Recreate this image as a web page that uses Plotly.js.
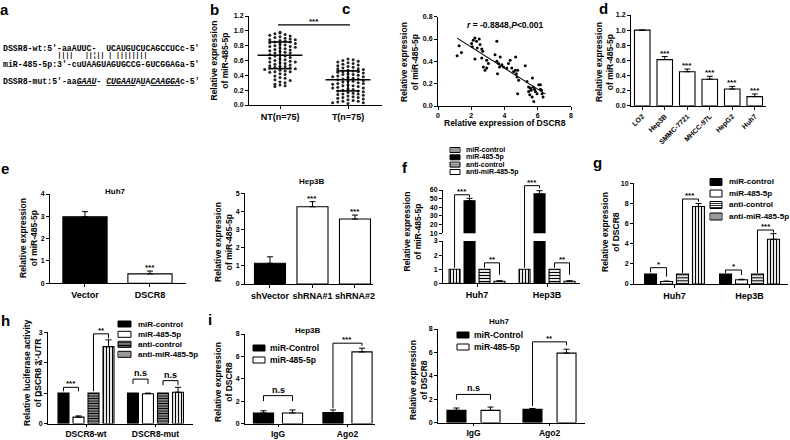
<!DOCTYPE html>
<html><head><meta charset="utf-8">
<script src="https://cdn.plot.ly/plotly-3.0.1.min.js"></script>
<style>html,body{margin:0;padding:0;background:#fff;}#chart{width:790px;height:440px;}</style>
</head><body><div id="chart"></div>
<script>
// ---------------- DATA ----------------
// a: sequences
const seqWt  = "DSSR8-wt:5'-aaAUUC-\u00a0\u00a0UCAUGUCUCAGCCUCc-5'";
const seqMiR = "miR-485-5p:3'-cuUAAGUAGUGCCG-GUCGGAGa-5'";
const seqMut = "DSSR8-mut:5'-aa<i><u>GAAU</u></i>-\u00a0<i><u>CUGAAU</u></i>A<u>U</u>A<i><u>CAAGGA</u></i>c-5'";
const seqPairs = "\u00a0\u00a0\u00a0\u00a0\u00a0\u00a0\u00a0\u00a0\u00a0\u00a0\u00a0\u00a0\u00a0\u00a0||||\u00a0\u00a0\u00a0||\u00a6||\u00a0|\u00a0||||||||";

// b: scatter dot plot
const bGroups = ['NT(n=75)', 'T(n=75)'];
const bNT = [0.98,0.97,0.95,0.96,0.93,0.94,0.92,0.90,0.91,0.89,
             0.88,0.88,0.87,0.86,0.85,0.85,0.84,0.83,0.82,0.81,
             0.80,0.79,0.79,0.78,0.77,0.76,0.75,0.74,0.73,0.72,
             0.71,0.70,0.70,0.68,0.67,0.66,0.66,0.64,0.63,0.62,
             0.61,0.60,0.59,0.58,0.58,0.57,0.56,0.55,0.54,0.53,
             0.52,0.52,0.51,0.50,0.50,0.49,0.48,0.47,0.46,0.45,
             0.45,0.44,0.42,0.41,0.39,0.37,0.36,0.34,0.33,0.31,
             0.30,0.28,0.27,0.26,0.25];
const bT  = [0.62,0.61,0.60,0.59,0.58,0.57,0.56,0.55,0.54,0.53,
             0.52,0.51,0.50,0.49,0.49,0.48,0.47,0.46,0.45,0.45,
             0.44,0.43,0.42,0.41,0.41,0.40,0.39,0.38,0.38,0.37,
             0.36,0.35,0.35,0.34,0.33,0.32,0.32,0.31,0.30,0.29,
             0.29,0.28,0.27,0.26,0.26,0.25,0.24,0.23,0.23,0.22,
             0.21,0.20,0.19,0.19,0.18,0.17,0.16,0.15,0.15,0.14,
             0.13,0.12,0.11,0.10,0.10,0.09,0.08,0.07,0.06,0.05,
             0.05,0.04,0.03,0.03,0.02];
const bMean = [0.67, 0.34];
const bSdLow = [0.49, 0.19];
const bSdHigh = [0.85, 0.46];

// c: correlation
const cDSCR8 = [1.15,1.27,1.41,2.02,2.12,2.22,2.32,2.06,2.22,2.36,2.48,2.53,2.63,2.69,2.63,2.73,2.83,2.93,2.93,3.03,
                3.54,3.43,3.54,3.64,3.70,3.74,3.58,3.84,3.94,4.14,4.24,4.34,4.44,4.55,4.65,4.71,4.75,4.79,4.67,4.85,
                4.79,5.25,5.35,5.45,5.56,5.60,5.68,5.72,5.80,5.86,5.76,5.66,6.06,6.16,6.22,6.26,6.32,6.16,5.96,5.52,5.45];
const cMiR485 = [0.45,0.54,0.48,0.56,0.59,0.61,0.58,0.53,0.42,0.52,0.60,0.55,0.51,0.49,0.43,0.35,0.32,0.34,0.41,0.38,
                 0.58,0.46,0.40,0.38,0.35,0.44,0.29,0.37,0.35,0.34,0.38,0.41,0.34,0.31,0.32,0.29,0.26,0.32,0.44,0.23,
                 0.11,0.36,0.22,0.17,0.16,0.14,0.25,0.17,0.15,0.13,0.04,0.08,0.19,0.15,0.14,0.11,0.08,0.19,0.11,0.10,0.13];

// d: cell lines
const dCells = ['LO2','Hep3B','SMMC-7721','MHCC-97L','HepG2','Huh7'];
const dExpr  = [1.0, 0.61, 0.45, 0.35, 0.22, 0.12];
const dErr   = [0, 0.04, 0.035, 0.04, 0.035, 0.035];
const dSig   = ['', '***', '***', '***', '***', '***'];

// e
const eHuh7Groups = ['Vector','DSCR8'];
const eHuh7Expr = [2.98, 0.42];
const eHuh7Err  = [0.23, 0.13];
const eHuh7Sig  = ['', '***'];
const eHep3BGroups = ['shVector','shRNA#1','shRNA#2'];
const eHep3BExpr = [1.14, 4.26, 3.58];
const eHep3BErr  = [0.36, 0.28, 0.22];
const eHep3BSig  = ['', '***', '***'];

// f
const fCells = ['Huh7','Hep3B'];
const fMiRControl = [1, 1];
const fMiR485 = [47.6, 55.5];
const fMiR485Err = [2.8, 3.7];
const fAntiControl = [1, 1];
const fAntiMiR485 = [0.15, 0.15];
const fAntiMiR485Err = [0.03, 0.03];

// g
const gCells = ['Huh7','Hep3B'];
const gMiRControl = [1, 1];
const gMiR485 = [0.25, 0.42];
const gMiR485Err = [0.04, 0.05];
const gAntiControl = [1, 1];
const gAntiMiR485 = [7.7, 4.45];
const gAntiMiR485Err = [0.3, 0.55];

// h
const hGroups = ['DSCR8-wt','DSCR8-mut'];
const hMiRControl = [1, 1];
const hMiR485 = [0.21, 0.98];
const hMiR485Err = [0.04, 0.02];
const hAntiControl = [1, 1];
const hAntiMiR485 = [2.53, 1.03];
const hAntiMiR485Err = [0.22, 0.16];

// i
const iGroups = ['IgG','Ago2'];
const iHep3BControl = [0.94, 0.97];
const iHep3BControlErr = [0.2, 0.24];
const iHep3BMiR485 = [0.94, 6.4];
const iHep3BMiR485Err = [0.27, 0.33];
const iHuh7Control = [1.04, 1.12];
const iHuh7ControlErr = [0.2, 0.08];
const iHuh7MiR485 = [1.04, 5.94];
const iHuh7MiR485Err = [0.28, 0.33];

// ---------------- HELPERS ----------------
const W = 790, H = 440;
const FONT = 'Liberation Sans, Arial, sans-serif';
const X = p => p / W, Y = p => 1 - p / H;
const idx = a => a.map((_, i) => i);
const ak = id => (id[0] === 'x' ? 'xaxis' : 'yaxis') + (id.length > 1 ? id.slice(1) : '');
const F = (size, extra) => Object.assign({family: FONT, size: size, color: 'black', weight: 'bold'}, extra || {});

const traces = [], shapes = [], annotations = [];
const layout = {
  width: W, height: H, margin: {l: 0, r: 0, t: 0, b: 0},
  paper_bgcolor: 'white', plot_bgcolor: 'white', showlegend: false, barmode: 'overlay',
  font: {family: FONT, color: 'black'}
};

const base = {showline: true, linecolor: 'black', linewidth: 1, ticks: 'outside', ticklen: 3, tickwidth: 1,
  tickcolor: 'black', showgrid: false, zeroline: false, fixedrange: true, tickfont: F(7)};

const P = {
  b:  {x: 'x',   y: 'y',   px: [249, 382], py: [16, 105],    xr: [-0.456, 1.5],  yr: [0, 1.2]},
  c:  {x: 'x2',  y: 'y2',  px: [438, 571], py: [16.7, 106],  xr: [0, 8],         yr: [0, 0.8]},
  d:  {x: 'x3',  y: 'y3',  px: [631, 766], py: [15, 105.7],  xr: [-0.5, 5.5],    yr: [0, 1.2]},
  eL: {x: 'x4',  y: 'y4',  px: [50, 186],  py: [194, 283.3], xr: [-0.538, 1.554], yr: [0, 4]},
  eR: {x: 'x5',  y: 'y5',  px: [245, 373], py: [193.3, 284], xr: [-0.588, 2.424], yr: [0, 5]},
  fL: {x: 'x6',  y: 'y6',  px: [443, 580], py: [241, 283.3], xr: [-0.486, 1.471], yr: [0, 3]},
  fU: {x: 'x6',  y: 'y7',  px: [443, 580], py: [190, 233.3], xr: [-0.486, 1.471], yr: [10, 60]},
  g:  {x: 'x7',  y: 'y8',  px: [634, 788], py: [183.3, 284], xr: [-0.54, 1.513],  yr: [0, 10]},
  h:  {x: 'x8',  y: 'y9',  px: [48, 193],  py: [332.3, 423.5], xr: [-0.547, 1.54],  yr: [0, 3]},
  iL: {x: 'x9',  y: 'y10', px: [245, 375], py: [334, 423.5],   xr: [-0.475, 1.396], yr: [0, 8]},
  iR: {x: 'x10', y: 'y11', px: [438, 585], py: [329, 422.5], xr: [-0.467, 1.467], yr: [0, 8]}
};

function axes(p, xo, yo) {
  if (xo) layout[ak(p.x)] = Object.assign({}, base, {domain: [X(p.px[0]), X(p.px[1])], range: p.xr, anchor: p.y}, xo);
  layout[ak(p.y)] = Object.assign({}, base, {domain: [Y(p.py[1]), Y(p.py[0])], range: p.yr, anchor: p.x, tickmode: 'linear'}, yo);
}
const catX = (cats, size) => ({tickmode: 'array', tickvals: idx(cats), ticktext: cats, tickfont: F(size || 9)});
function yp(p, v) { return Y(p.py[1] - (v - p.yr[0]) / (p.yr[1] - p.yr[0]) * (p.py[1] - p.py[0])); }

const STY = {
  black:   {color: 'black'},
  white:   {color: 'white'},
  vstripe: {color: 'white', pattern: {shape: '|', fgcolor: 'black', size: 3, solidity: 0.4}},
  hstripe: {color: 'white', pattern: {shape: '-', fgcolor: 'black', size: 3, solidity: 0.4}},
  hdark:   {color: 'white', pattern: {shape: '-', fgcolor: 'black', size: 2.5, solidity: 0.65}}
};

function barTrace(p, xs, ys, err, style, off, wid, yaxis) {
  return {type: 'bar', x: xs, y: ys, xaxis: p.x, yaxis: yaxis || p.y, offset: off - wid / 2, width: wid,
    marker: Object.assign({line: {color: 'black', width: 1.1}}, style),
    error_y: err ? {type: 'data', symmetric: false, array: err, arrayminus: err.map(() => 0),
      color: 'black', thickness: 1, width: 3, visible: true} : {visible: false},
    showlegend: false, hoverinfo: 'skip'};
}

function seg(xref, yref, x0, y0, x1, y1, w) {
  shapes.push({type: 'line', xref: xref, yref: yref, x0: x0, y0: y0, x1: x1, y1: y1,
    line: {color: 'black', width: w || 1}});
}
function txt(x, y, text, font, o) {
  annotations.push(Object.assign({xref: 'paper', yref: 'paper', x: x, y: y, text: text, showarrow: false,
    font: font, xanchor: 'center', yanchor: 'middle'}, o || {}));
}
function bracket(xref, xL, xR, yBL, yT, yBR, label, size) {
  seg(xref, 'paper', xL, yBL, xL, yT);
  seg(xref, 'paper', xL, yT, xR, yT);
  seg(xref, 'paper', xR, yT, xR, yBR);
  annotations.push({xref: xref, yref: 'paper', x: (xL + xR) / 2, y: yT, yanchor: 'bottom', text: label,
    showarrow: false, font: F(size || 8), yshift: label === 'n.s' ? -1 : -3});
}
function sigAbove(p, vals, errs, sig) {
  vals.forEach((v, i) => {
    if (!sig[i]) return;
    annotations.push({xref: p.x, yref: 'paper', x: i, y: yp(p, v + (errs[i] || 0)), yanchor: 'bottom',
      text: sig[i], showarrow: false, font: F(8), yshift: -3});
  });
}
function legendItem(x, y, w, h, style, label, size, gap) {
  shapes.push({type: 'rect', xref: 'paper', yref: 'paper', x0: X(x), x1: X(x + w), y0: Y(y + h / 2), y1: Y(y - h / 2),
    line: {color: 'black', width: 1}, fillcolor: style === 'black' ? 'black' : 'white'});
  if (style === 'vstripe') for (let sx = x + 2; sx < x + w - 0.5; sx += 2) seg('paper', 'paper', X(sx), Y(y - h / 2), X(sx), Y(y + h / 2), 0.8);
  if (style === 'hstripe' || style === 'hdark') {
    const st = style === 'hdark' ? 1.4 : 2;
    for (let sy = y - h / 2 + st; sy < y + h / 2 - 0.3; sy += st) seg('paper', 'paper', X(x), Y(sy), X(x + w), Y(sy), style === 'hdark' ? 1 : 0.8);
  }
  txt(X(x + w + gap), Y(y), label, F(size), {xanchor: 'left'});
}
function yTitle(cx, cy, text) { txt(X(cx), Y(cy), text, F(8.5), {textangle: -90}); }
function letter(cx, cy, t) { txt(X(cx), Y(cy), t, F(15)); }

// ---------------- PANEL a ----------------
letter(4, 9, 'a');
const monoF = {family: 'Liberation Mono, DejaVu Sans Mono, monospace', size: 8.2, color: 'black', weight: 'bold'};
txt(X(1), Y(48), seqWt, monoF, {xanchor: 'left'});
txt(X(1), Y(56), seqPairs, Object.assign({}, monoF, {size: 6.5}), {xanchor: 'left'});
txt(X(1), Y(64), seqMiR, monoF, {xanchor: 'left'});
txt(X(1), Y(81), seqMut, monoF, {xanchor: 'left'});

// ---------------- PANEL b ----------------
letter(214, 9, 'b');
axes(P.b, Object.assign(catX(bGroups), {tickmode: 'array'}), {dtick: 0.2, tick0: 0, tickformat: '.1f'});
function swarmX(vals, g) {
  const counts = {}, binW = 0.05, step = 0.075;
  return vals.map(v => {
    const b = Math.round(v / binW); const k = counts[b] || 0; counts[b] = k + 1;
    const m = k === 0 ? 0 : (k % 2 === 1 ? Math.ceil(k / 2) : -Math.ceil(k / 2));
    return g + m * step;
  });
}
[bNT, bT].forEach((vals, g) => {
  traces.push({type: 'scatter', mode: 'markers', x: swarmX(vals, g), y: vals, xaxis: 'x', yaxis: 'y',
    marker: {size: 3, color: '#222'}, showlegend: false, hoverinfo: 'skip'});
  const m = bMean[g], lo = bSdLow[g], hi = bSdHigh[g];
  traces.push({type: 'scatter', mode: 'lines', xaxis: 'x', yaxis: 'y', showlegend: false, hoverinfo: 'skip',
    x: [g - 0.33, g + 0.33, null, g, g, null, g - 0.17, g + 0.17, null, g - 0.17, g + 0.17],
    y: [m, m, null, lo, hi, null, lo, lo, null, hi, hi], line: {color: 'black', width: 1.6}});
});
seg('x', 'paper', -0.03, yp(P.b, 1.08), 1.03, yp(P.b, 1.08), 1.2);
annotations.push({xref: 'x', yref: 'paper', x: 0.5, y: yp(P.b, 1.08), yanchor: 'bottom', text: '***', showarrow: false, font: F(8), yshift: -3});
yTitle(219.5, 60, 'Relative expression<br>of miR-485-5p');

// ---------------- PANEL c ----------------
letter(346, 8, 'c');
axes(P.c, {tickmode: 'linear', dtick: 2, tick0: 0}, {dtick: 0.2, tick0: 0, tickformat: '.1f'});
traces.push({type: 'scatter', mode: 'markers', x: cDSCR8, y: cMiR485, xaxis: 'x2', yaxis: 'y2',
  marker: {size: 3, color: 'black'}, showlegend: false, hoverinfo: 'skip'});
(function () {
  const n = cDSCR8.length;
  const mx = cDSCR8.reduce((a, b) => a + b, 0) / n, my = cMiR485.reduce((a, b) => a + b, 0) / n;
  let sxy = 0, sxx = 0;
  for (let i = 0; i < n; i++) { sxy += (cDSCR8[i] - mx) * (cMiR485[i] - my); sxx += (cDSCR8[i] - mx) ** 2; }
  const slope = sxy / sxx, icpt = my - slope * mx;
  const x0 = Math.min(...cDSCR8), x1 = Math.max(...cDSCR8) + 0.15;
  traces.push({type: 'scatter', mode: 'lines', x: [x0, x1], y: [icpt + slope * x0, icpt + slope * x1],
    xaxis: 'x2', yaxis: 'y2', line: {color: 'black', width: 1.1}, showlegend: false, hoverinfo: 'skip'});
})();
txt(X(505), Y(25), '<i>r</i> = -0.8848,<i>P</i>&lt;0.001', F(8.5));
txt(X(505), Y(123), 'Relative expression of DSCR8', F(8.5));
yTitle(410, 62, 'Relative expression<br>of miR-485-5p');

// ---------------- PANEL d ----------------
letter(603, 8, 'd');
axes(P.d, Object.assign(catX(dCells), {tickangle: -45, tickfont: F(7)}), {dtick: 0.2, tick0: 0, tickformat: '.1f'});
traces.push(barTrace(P.d, idx(dCells), dExpr, dErr, STY.white, 0, 0.69));
sigAbove(P.d, dExpr, dErr, dSig);
yTitle(605, 62, 'Relative expression<br>of miR-485-5p');

// ---------------- PANEL e ----------------
letter(5, 168, 'e');
axes(P.eL, catX(eHuh7Groups), {dtick: 1, tick0: 0});
traces.push(barTrace(P.eL, idx(eHuh7Groups), eHuh7Expr, eHuh7Err, {color: ['black', 'white']}, 0, 0.68));
sigAbove(P.eL, eHuh7Expr, eHuh7Err, eHuh7Sig);
txt(X(115), Y(191), 'Huh7', F(8));
yTitle(28, 238, 'Relative expression<br>of miR-485-5p');

axes(P.eR, catX(eHep3BGroups), {dtick: 1, tick0: 0});
traces.push(barTrace(P.eR, idx(eHep3BGroups), eHep3BExpr, eHep3BErr, {color: ['black', 'white', 'white']}, 0, 0.73));
sigAbove(P.eR, eHep3BExpr, eHep3BErr, eHep3BSig);
txt(X(312), Y(182), 'Hep3B', F(8));
yTitle(223, 242, 'Relative expression<br>of miR-485-5p');

// ---------------- PANEL f ----------------
letter(405, 167, 'f');
axes(P.fL, catX(fCells), {dtick: 1, tick0: 0});
axes(P.fU, null, {dtick: 10, tick0: 10});
const fSlot = 0.214, fWid = 0.157;
const fSeries = [
  [fMiRControl, null, 'vstripe', 'miR-control'],
  [fMiR485, fMiR485Err, 'black', 'miR-485-5p'],
  [fAntiControl, null, 'hstripe', 'anti-control'],
  [fAntiMiR485, fAntiMiR485Err, 'white', 'anti-miR-485-5p']
];
fSeries.forEach((s, i) => {
  const off = (i - 1.5) * fSlot, big = Math.max(...s[0]) > P.fL.yr[1];
  traces.push(barTrace(P.fL, idx(fCells), s[0], big ? null : s[1], STY[s[2]], off, fWid));
  if (Math.max(...s[0]) > P.fU.yr[0]) traces.push(barTrace(P.fU, idx(fCells), s[0], s[1], STY[s[2]], off, fWid, 'y7'));
});
[0, 1].forEach(g => {
  bracket('x6', g - 1.5 * fSlot, g - 0.5 * fSlot, yp(P.fL, 1.1), yp(P.fU, g ? 65 : 54.5), yp(P.fU, g ? 62 : 51.5), '***');
  bracket('x6', g + 0.5 * fSlot, g + 1.5 * fSlot, yp(P.fL, 1.1), yp(P.fL, 1.45), yp(P.fL, 0.6), '**');
});
[150, 157.3, 164.6, 172].forEach((yy, i) => legendItem(450, yy, 10, 5, fSeries[i][2], fSeries[i][3], 7, 4));
yTitle(412.5, 232, 'Relative expression<br>of miR-485-5p');

// ---------------- PANEL g ----------------
letter(597, 162, 'g');
axes(P.g, catX(gCells), {dtick: 2, tick0: 0});
const gSlot = 0.213, gWid = 0.16;
const gSeries = [
  [gMiRControl, null, 'black', 'miR-control'],
  [gMiR485, gMiR485Err, 'white', 'miR-485-5p'],
  [gAntiControl, null, 'hstripe', 'anti-control'],
  [gAntiMiR485, gAntiMiR485Err, 'vstripe', 'anti-miR-485-5p']
];
gSeries.forEach((s, i) => traces.push(barTrace(P.g, idx(gCells), s[0], s[1], STY[s[2]], (i - 1.5) * gSlot, gWid)));
bracket('x7', -1.5 * gSlot, -0.5 * gSlot, yp(P.g, 1.15), yp(P.g, 1.62), yp(P.g, 0.73), '*');
bracket('x7', 0.5 * gSlot, 1.5 * gSlot, yp(P.g, 1.1), yp(P.g, 8.44), yp(P.g, 8.18), '***');
bracket('x7', 1 - 1.5 * gSlot, 1 - 0.5 * gSlot, yp(P.g, 1.1), yp(P.g, 1.39), yp(P.g, 0.9), '*');
bracket('x7', 1 + 0.5 * gSlot, 1 + 1.5 * gSlot, yp(P.g, 1.1), yp(P.g, 5.36), yp(P.g, 5.1), '***');
[182, 193.5, 205, 216.5].forEach((yy, i) => legendItem(710, yy, 12, 7, gSeries[i][2], gSeries[i][3], 8, 5));
yTitle(611, 232, 'Relative expression<br>of DSCR8');

// ---------------- PANEL h ----------------
letter(5, 320, 'h');
axes(P.h, Object.assign(catX(hGroups, 8.5), {ticklen: 2}), {dtick: 1, tick0: 0});
const hSlot = 0.216, hWid = 0.158;
const hSeries = [
  [hMiRControl, null, 'black', 'miR-control'],
  [hMiR485, hMiR485Err, 'white', 'miR-485-5p'],
  [hAntiControl, null, 'hdark', 'anti-control'],
  [hAntiMiR485, hAntiMiR485Err, 'vstripe', 'anti-miR-485-5p']
];
hSeries.forEach((s, i) => traces.push(barTrace(P.h, idx(hGroups), s[0], s[1], STY[s[2]], (i - 1.5) * hSlot, hWid)));
bracket('x8', -1.5 * hSlot, -0.5 * hSlot, yp(P.h, 1.06), yp(P.h, 1.19), yp(P.h, 1.06), '***');
bracket('x8', 0.5 * hSlot, 1.5 * hSlot, yp(P.h, 1.06), yp(P.h, 2.95), yp(P.h, 2.8), '**');
bracket('x8', 1 - 1.5 * hSlot, 1 - 0.5 * hSlot, yp(P.h, 1.3), yp(P.h, 1.46), yp(P.h, 1.3), 'n.s', 9);
bracket('x8', 1 + 0.5 * hSlot, 1 + 1.5 * hSlot, yp(P.h, 1.26), yp(P.h, 1.41), yp(P.h, 1.26), 'n.s', 9);
[324, 334.3, 344.3, 354.3].forEach((yy, i) => legendItem(118, yy, 13, 6, hSeries[i][2], hSeries[i][3], 8, 5));
yTitle(32, 373, 'Relative luciferase activity<br>of DSCR8 3\'-UTR');

// ---------------- PANEL i ----------------
letter(210, 319, 'i');
axes(P.iL, Object.assign(catX(iGroups, 8.5), {ticklen: 2}), {dtick: 2, tick0: 0});
traces.push(barTrace(P.iL, idx(iGroups), iHep3BControl, iHep3BControlErr, STY.black, -0.209, 0.29));
traces.push(barTrace(P.iL, idx(iGroups), iHep3BMiR485, iHep3BMiR485Err, STY.white, 0.209, 0.29));
bracket('x9', -0.209, 0.209, yp(P.iL, 2.0), yp(P.iL, 2.49), yp(P.iL, 2.0), 'n.s', 9);
bracket('x9', 0.791, 1.209, yp(P.iL, 1.35), yp(P.iL, 7.18), yp(P.iL, 6.95), '***');
legendItem(253, 348, 12, 6, 'black', 'miR-Control', 8.5, 3);
legendItem(253, 360, 12, 6, 'white', 'miR-485-5p', 8.5, 3);
txt(X(308), Y(330), 'Hep3B', F(8));
yTitle(223, 382, 'Relative expression<br>of DSCR8');

axes(P.iR, Object.assign(catX(iGroups, 8.5), {ticklen: 2}), {dtick: 2, tick0: 0});
traces.push(barTrace(P.iR, idx(iGroups), iHuh7Control, iHuh7ControlErr, STY.black, -0.224, 0.25));
traces.push(barTrace(P.iR, idx(iGroups), iHuh7MiR485, iHuh7MiR485Err, STY.white, 0.224, 0.25));
bracket('x10', -0.224, 0.224, yp(P.iR, 1.95), yp(P.iR, 2.4), yp(P.iR, 1.95), 'n.s', 9);
bracket('x10', 0.776, 1.224, yp(P.iR, 1.4), yp(P.iR, 6.9), yp(P.iR, 6.6), '**');
legendItem(457, 335, 12, 6, 'black', 'miR-Control', 8.5, 3);
legendItem(457, 347, 12, 6, 'white', 'miR-485-5p', 8.5, 3);
txt(X(499), Y(321), 'Huh7', F(8));
yTitle(418, 380, 'Relative expression<br>of DSCR8');

layout.shapes = shapes;
layout.annotations = annotations;
Plotly.newPlot('chart', traces, layout, {staticPlot: true, displayModeBar: false});
</script>
</body></html>
